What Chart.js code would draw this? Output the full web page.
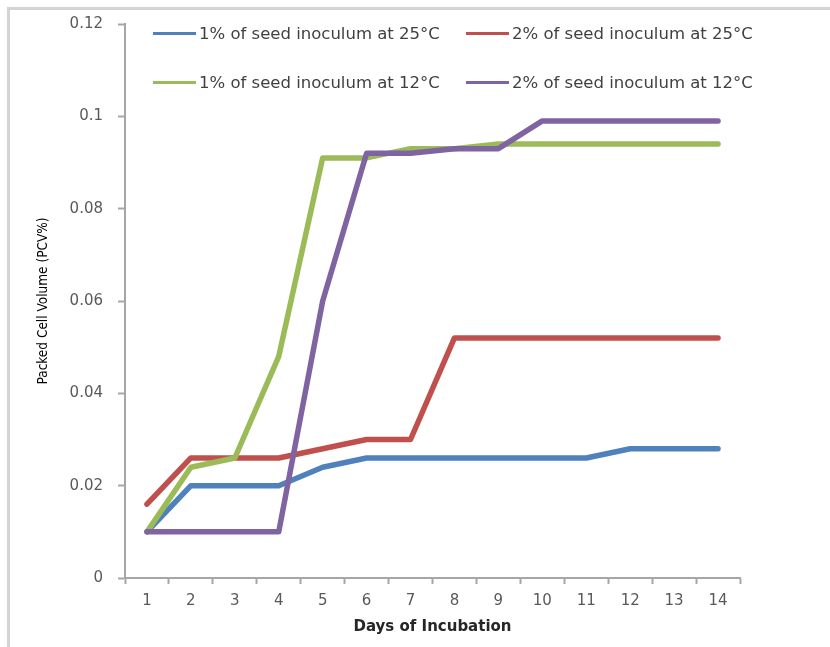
<!DOCTYPE html>
<html>
<head>
<meta charset="utf-8">
<title>Packed Cell Volume</title>
<script src="https://cdn.jsdelivr.net/npm/chart.js@4"></script>
<style>
  body { margin: 0; background: #fff; }
  .wrap { position: relative; width: 830px; height: 647px; overflow: hidden; }
  .frame {
    position: absolute; left: 7px; top: 7px; width: 830px; height: 647px;
    border-left: 3px solid #d4d4d4; border-top: 3px solid #d4d4d4;
  }
  canvas { position: absolute; left: 0; top: 0; }
  .legend {
    position: absolute; left: 153px; top: 9px;
    display: grid; grid-template-columns: 313px auto; grid-auto-rows: 49px;
    font-family: "DejaVu Sans", sans-serif; font-size: 16.5px; color: #404040;
  }
  .legend-item { display: flex; align-items: center; white-space: nowrap; }
  .legend-line { display: inline-block; width: 43px; height: 3px; margin-right: 3px; }
</style>
</head>
<body>
<div class="wrap">
  <div class="frame"></div>
  <canvas id="chart" width="830" height="647"></canvas>
  <div class="legend" id="legend"></div>
</div>
<script>
// days of incubation
const days = ['1', '2', '3', '4', '5', '6', '7', '8', '9', '10', '11', '12', '13', '14'];

// packed cell volume per series
const seed1At25 = [0.010, 0.020, 0.020, 0.020, 0.024, 0.026, 0.026, 0.026, 0.026, 0.026, 0.026, 0.028, 0.028, 0.028];
const seed2At25 = [0.016, 0.026, 0.026, 0.026, 0.028, 0.030, 0.030, 0.052, 0.052, 0.052, 0.052, 0.052, 0.052, 0.052];
const seed1At12 = [0.010, 0.024, 0.026, 0.048, 0.091, 0.091, 0.093, 0.093, 0.094, 0.094, 0.094, 0.094, 0.094, 0.094];
const seed2At12 = [0.010, 0.010, 0.010, 0.010, 0.060, 0.092, 0.092, 0.093, 0.093, 0.099, 0.099, 0.099, 0.099, 0.099];

const seriesNames = [
  '1% of seed inoculum at 25°C',
  '2% of seed inoculum at 25°C',
  '1% of seed inoculum at 12°C',
  '2% of seed inoculum at 12°C'
];
const seriesData = [seed1At25, seed2At25, seed1At12, seed2At12];
const seriesColors = ['#4F81BD', '#C0504D', '#9BBB59', '#8064A2'];

const tickFont = { family: 'DejaVu Sans', size: 15 };
const axisColor = '#a6a6a6';

const datasets = seriesNames.map((name, i) => ({
  label: name,
  data: seriesData[i],
  borderColor: seriesColors[i],
  backgroundColor: seriesColors[i],
  borderWidth: 5.5,
  pointRadius: 0,
  tension: 0,
  borderJoinStyle: 'round',
  borderCapStyle: 'round',
  // later series drawn on top, like the original
  order: seriesNames.length - i
}));

new Chart(document.getElementById('chart'), {
  type: 'line',
  data: { labels: days, datasets: datasets },
  options: {
    responsive: false,
    animation: false,
    layout: { padding: { left: 0, top: 22, right: 90, bottom: 0 } },
    plugins: {
      legend: { display: false },
      tooltip: { enabled: false }
    },
    scales: {
      x: {
        offset: true,
        grid: { offset: true, drawOnChartArea: false, tickLength: 6, tickColor: axisColor, tickWidth: 2 },
        border: { color: axisColor, width: 2 },
        ticks: { font: tickFont, color: '#595959', padding: 8, maxRotation: 0 },
        title: {
          display: true,
          text: 'Days of Incubation',
          font: { family: 'DejaVu Sans', size: 15, weight: 'bold' },
          color: '#262626',
          padding: { top: 0, bottom: 11 }
        },
        afterFit: (scale) => { scale.height = 69; }
      },
      y: {
        min: 0,
        max: 0.12,
        ticks: {
          stepSize: 0.02,
          font: tickFont,
          color: '#595959',
          padding: 15,
          callback: (v) => String(Number(v.toFixed(2)))
        },
        grid: { drawOnChartArea: false, tickLength: 7, tickColor: axisColor, tickWidth: 2 },
        border: { color: axisColor, width: 2 },
        title: {
          display: true,
          text: 'Packed Cell Volume (PCV%)',
          font: { family: "'DejaVu Sans Condensed', sans-serif", size: 13.5 },
          color: '#000000',
          padding: { top: 35, bottom: 0 }
        },
        afterFit: (scale) => { scale.width = 125; }
      }
    }
  }
});

// html legend, two rows of two
const legendBox = document.getElementById('legend');
seriesNames.forEach((name, i) => {
  const item = document.createElement('div');
  item.className = 'legend-item';
  const line = document.createElement('span');
  line.className = 'legend-line';
  line.style.background = seriesColors[i];
  item.appendChild(line);
  item.appendChild(document.createTextNode(name));
  legendBox.appendChild(item);
});
</script>
</body>
</html>
